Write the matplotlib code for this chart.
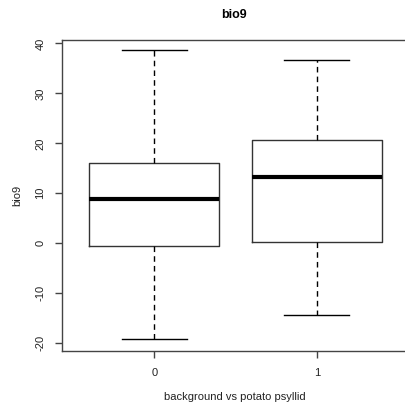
import matplotlib
matplotlib.use("Agg")
import matplotlib.pyplot as plt

# Data
categories = ["0", "1"]
whisker_low = [-19.2, -14.3]
q1 = [-0.5, 0.2]
median = [8.9, 13.2]
q3 = [16.1, 20.6]
whisker_high = [38.7, 36.7]
yticks = [-20, -10, 0, 10, 20, 30, 40]

plt.rcParams['font.family'] = ['Liberation Sans', 'DejaVu Sans']

W, H = 406, 407
fig = plt.figure(figsize=(W / 100, H / 100), dpi=100)
left, right, top, bottom = 62, 412, 40, 351
ax = fig.add_axes([left / W, 1 - bottom / H, (right - left) / W, (bottom - top) / H])

stats = []
for i, c in enumerate(categories):
    stats.append(dict(label=c, whislo=whisker_low[i], q1=q1[i], med=median[i],
                      q3=q3[i], whishi=whisker_high[i], fliers=[]))

ax.bxp(stats, positions=[1, 2], widths=0.8, showfliers=False,
       boxprops=dict(color='#333333', linewidth=1.0),
       medianprops=dict(color='black', linewidth=3.0, solid_capstyle='butt'),
       whiskerprops=dict(color='black', linewidth=1.0, linestyle=(0, (4, 3))),
       capprops=dict(color='black', linewidth=1.0),
       capwidths=0.4)

ax.set_xlim(0.432, 2.585)
ax.set_ylim(-21.6, 40.7)
ax.set_yticks(yticks)
ax.set_yticklabels([str(v) for v in yticks], rotation=90, va='center')
ax.set_xticks([1, 2])
ax.set_xticklabels(categories)

for s in ax.spines.values():
    s.set_color('#444444')
    s.set_linewidth(1.0)
ax.tick_params(axis='both', direction='out', length=5, width=1, color='#444444',
               labelsize=8, labelcolor='#222222', pad=7)

ax.set_xlabel("background vs potato psyllid", fontsize=8, color='#222222', va='center')
ax.xaxis.set_label_coords((235 - left) / (right - left), (bottom - 397) / (bottom - top))
ax.set_ylabel("bio9", fontsize=8, color='#222222', va='center')
ax.yaxis.set_label_coords((17 - left) / (right - left), 0.5)
ax.set_title("bio9", fontsize=9, fontweight='bold', va='center', pad=0,
             x=(234 - left) / (right - left), y=(bottom - 15) / (bottom - top))

fig.savefig("out.png", dpi=100)
